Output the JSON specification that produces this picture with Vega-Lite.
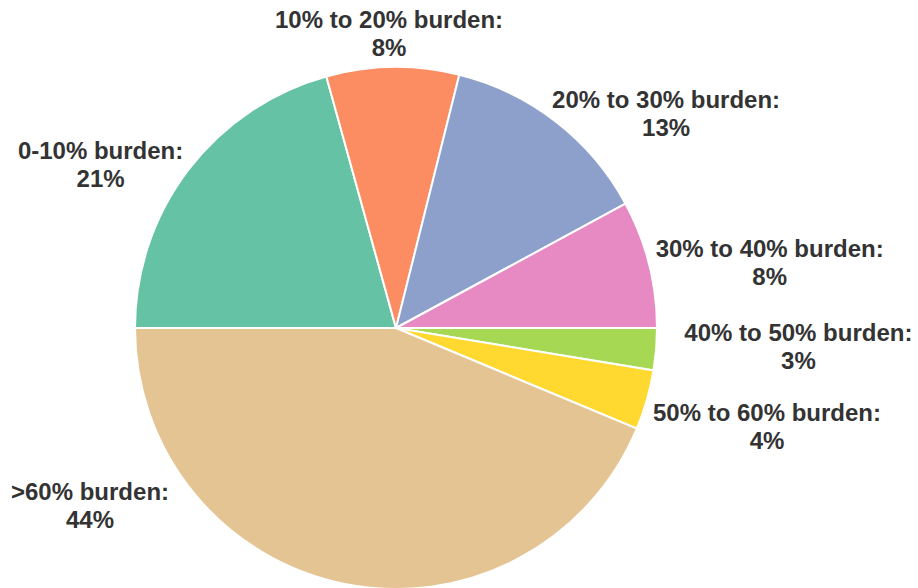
{
  "$schema": "https://vega.github.io/schema/vega-lite/v6.json",
  "width": 522,
  "height": 522,
  "autosize": {"type": "none"},
  "padding": {"left": 135, "top": 67, "right": 261, "bottom": 0},
  "background": "#ffffff",
  "view": {"stroke": null},
  "data": {
    "values": [
      {"category": "0-10% burden", "value": 20.7, "label": "0-10% burden:\n21%"},
      {"category": "10% to 20% burden", "value": 8.2, "label": "10% to 20% burden:\n8%"},
      {"category": "20% to 30% burden", "value": 13.2, "label": "20% to 30% burden:\n13%"},
      {"category": "30% to 40% burden", "value": 7.9, "label": "30% to 40% burden:\n8%"},
      {"category": "40% to 50% burden", "value": 2.6, "label": "40% to 50% burden:\n3%"},
      {"category": "50% to 60% burden", "value": 3.7, "label": "50% to 60% burden:\n4%"},
      {"category": ">60% burden", "value": 43.7, "label": ">60% burden:\n44%"}
    ]
  },
  "encoding": {
    "theta": {"field": "value", "type": "quantitative", "stack": true, "scale": {"range": [4.712389, 10.995574]}},
    "detail": {"field": "category", "type": "nominal"}
  },
  "layer": [
    {
      "mark": {"type": "arc", "stroke": "#ffffff", "strokeWidth": 2},
      "encoding": {
        "color": {
          "field": "category", "type": "nominal", "legend": null,
          "scale": {
            "domain": ["0-10% burden", "10% to 20% burden", "20% to 30% burden", "30% to 40% burden", "40% to 50% burden", "50% to 60% burden", ">60% burden"],
            "range": ["#66c2a5", "#fc8d62", "#8da0cb", "#e78ac3", "#a6d854", "#ffd92f", "#e5c494"]
          }
        }
      }
    },
    {
      "mark": {"type": "text", "font": "Liberation Sans", "fontWeight": "bold", "fontSize": 24, "lineHeight": 28, "lineBreak": "\n", "fill": "#333333", "align": "center", "baseline": "middle", "radius": 338, "thetaOffset": -0.143, "dy": -12},
      "encoding": {"text": {"condition": {"test": "datum.category === '0-10% burden'", "field": "label", "type": "nominal"}, "value": ""}}
    },
    {
      "mark": {"type": "text", "font": "Liberation Sans", "fontWeight": "bold", "fontSize": 24, "lineHeight": 28, "lineBreak": "\n", "fill": "#333333", "align": "center", "baseline": "middle", "radius": 296, "thetaOffset": -0.011, "dy": -11},
      "encoding": {"text": {"condition": {"test": "datum.category === '10% to 20% burden'", "field": "label", "type": "nominal"}, "value": ""}}
    },
    {
      "mark": {"type": "text", "font": "Liberation Sans", "fontWeight": "bold", "fontSize": 24, "lineHeight": 28, "lineBreak": "\n", "fill": "#333333", "align": "center", "baseline": "middle", "radius": 344, "thetaOffset": 0.243, "dy": -14},
      "encoding": {"text": {"condition": {"test": "datum.category === '20% to 30% burden'", "field": "label", "type": "nominal"}, "value": ""}}
    },
    {
      "mark": {"type": "text", "font": "Liberation Sans", "fontWeight": "bold", "fontSize": 24, "lineHeight": 28, "lineBreak": "\n", "fill": "#333333", "align": "center", "baseline": "middle", "radius": 379, "thetaOffset": 0.08, "dy": -15},
      "encoding": {"text": {"condition": {"test": "datum.category === '30% to 40% burden'", "field": "label", "type": "nominal"}, "value": ""}}
    },
    {
      "mark": {"type": "text", "font": "Liberation Sans", "fontWeight": "bold", "fontSize": 24, "lineHeight": 28, "lineBreak": "\n", "fill": "#333333", "align": "center", "baseline": "middle", "radius": 403, "thetaOffset": -0.026, "dy": -16},
      "encoding": {"text": {"condition": {"test": "datum.category === '40% to 50% burden'", "field": "label", "type": "nominal"}, "value": ""}}
    },
    {
      "mark": {"type": "text", "font": "Liberation Sans", "fontWeight": "bold", "fontSize": 24, "lineHeight": 28, "lineBreak": "\n", "fill": "#333333", "align": "center", "baseline": "middle", "radius": 385, "thetaOffset": -0.009, "dy": -17},
      "encoding": {"text": {"condition": {"test": "datum.category === '50% to 60% burden'", "field": "label", "type": "nominal"}, "value": ""}}
    },
    {
      "mark": {"type": "text", "font": "Liberation Sans", "fontWeight": "bold", "fontSize": 24, "lineHeight": 28, "lineBreak": "\n", "fill": "#333333", "align": "center", "baseline": "middle", "radius": 354, "thetaOffset": 0.846, "dy": -13},
      "encoding": {"text": {"condition": {"test": "datum.category === '>60% burden'", "field": "label", "type": "nominal"}, "value": ""}}
    }
  ]
}
